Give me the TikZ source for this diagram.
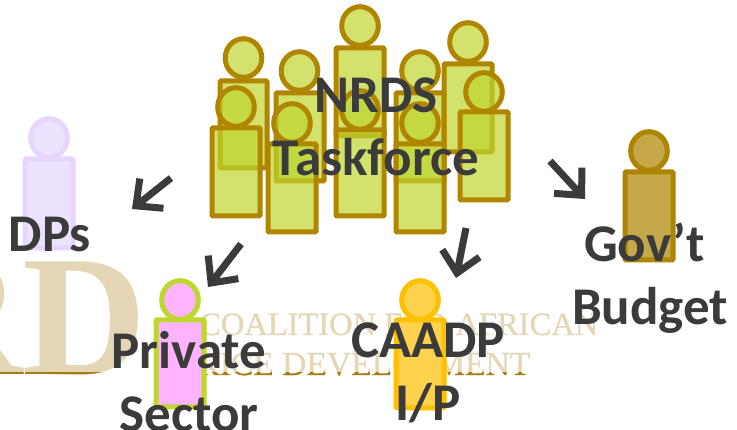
\documentclass[tikz,border=0pt]{standalone}
\usepackage{fontspec}
\setmainfont{Carlito}
\newfontfamily\logofont{Liberation Serif}
\newfontfamily\logofontb[FakeBold=0.6]{Liberation Serif}
\usetikzlibrary{arrows.meta}
\definecolor{txtdark}{HTML}{3B3B3B}
\definecolor{logotan}{HTML}{E5D6B6}
\definecolor{logobrown}{HTML}{A87B10}
\definecolor{tfstroke}{HTML}{B08600}
\definecolor{tffill}{HTML}{BFD62F}
\definecolor{dps}{HTML}{E6D6FF}
\definecolor{dpf}{HTML}{EEE3FF}
\definecolor{govs}{HTML}{AD8500}
\definecolor{govf}{HTML}{C4A84A}
\definecolor{privs}{HTML}{BFD62F}
\definecolor{privf}{HTML}{FFB3FF}
\definecolor{caas}{HTML}{FFC000}
\definecolor{caaf}{HTML}{FFD24D}
\tikzset{
 x=1pt,y=-1pt,
 lbl/.style={font=\fontsize{53}{63}\selectfont\bfseries,text=txtdark,align=center,inner sep=0pt},
 arr/.style={draw=txtdark,line width=7pt,-{Straight Barb[length=20pt,width=38pt,line width=7pt]}},
 logotxt/.style={font=\logofontb\fontsize{32.5}{35}\selectfont,anchor=base west,inner sep=0pt},
 logotxtb/.style={font=\logofontb\fontsize{33.6}{35}\selectfont,anchor=base west,inner sep=0pt},
 logobig/.style={font=\bfseries\logofont\fontsize{172}{172}\selectfont,anchor=base east,inner sep=0pt},
 taskp/.style={draw=tfstroke,line width=5pt,fill=tffill,fill opacity=.7,rounded corners=1pt},
 dpp/.style={draw=dps,line width=5pt,fill=dpf,rounded corners=1pt},
 govp/.style={draw=govs,line width=5pt,fill=govf,rounded corners=1pt},
 privp/.style={draw=privs,line width=5pt,fill=privf,rounded corners=1pt},
 caap/.style={draw=caas,line width=5pt,fill=caaf,rounded corners=1pt},
}
\newcommand{\person}[7]{%
 \draw[#1] (#2,#3) ellipse [x radius=18.3,y radius=19.3];
 \draw[#1] (#4,#5) rectangle (#6,#7);
}
\begin{document}
\begin{tikzpicture}
\useasboundingbox (0,0) rectangle (737,430);
\fill[white] (0,0) rectangle (737,430);
\begin{scope}
 \clip (0,0) rectangle (737,430);
 \node[logobig,text=logotan] (logoRD) at (147,375) {RD};
 \node[logotxt,text=logotan] (logoA) at (199,335) {COALITION FOR AFRICAN};
 \node[logotxtb,text=logotan] (logoB) at (197,375) {RICE DEVELOPMENT};
 \begin{scope}
  \clip (0,373) rectangle (737,378);
  \node[logobig,text=logobrown] (logoRDb) at (147,375) {RD};
  \node[logotxtb,text=logobrown] (logoBb) at (197,375) {RICE DEVELOPMENT};
 \end{scope}
\end{scope}
% taskforce: back row
\person{taskp}{243.5}{58}{220}{81}{267}{168}
\person{taskp}{299.5}{71}{276}{93}{324}{181}
\person{taskp}{360}{26}{336}{48}{384}{136}
\person{taskp}{420}{71}{396}{93}{444}{181}
\person{taskp}{468}{42}{444}{64}{492}{152}
% front row
\person{taskp}{236}{107}{212}{128}{260}{216}
\person{taskp}{292}{123}{268}{144}{316}{232}
\person{taskp}{360}{110}{336}{130}{384}{216}
\person{taskp}{420}{123}{396}{144}{444}{232}
\person{taskp}{484}{92}{460}{112}{508}{200}
% others
\person{dpp}{49}{138}{25}{159}{73}{248}
\person{govp}{649}{151}{625}{172}{673}{260}
\person{privp}{180}{300}{156}{320}{204}{407}
\person{caap}{420}{300}{396}{320}{444}{408}
% labels
\node[lbl] (task) at (376,127) {NRDS\\Taskforce};
\node[lbl] (dps) at (50,235) {DPs};
\node[lbl] (gov) at (650,278) {Gov’t\hspace*{11pt}\\Budget};
\node[lbl] (priv) at (189,382) {Private\\Sector};
\node[lbl] (caadp) at (428,373) {CAADP\\I/P};
% arrows
\coordinate (a1s) at (171,178); \coordinate (a1e) at (132,209);
\coordinate (a2s) at (241,244); \coordinate (a2e) at (208,287);
\coordinate (a3s) at (466,228); \coordinate (a3e) at (456,278);
\coordinate (a4s) at (550,161); \coordinate (a4e) at (585,199);
\draw[arr] (a1s) -- (a1e);
\draw[arr] (a2s) -- (a2e);
\draw[arr] (a3s) -- (a3e);
\draw[arr] (a4s) -- (a4e);
\end{tikzpicture}
\end{document}
